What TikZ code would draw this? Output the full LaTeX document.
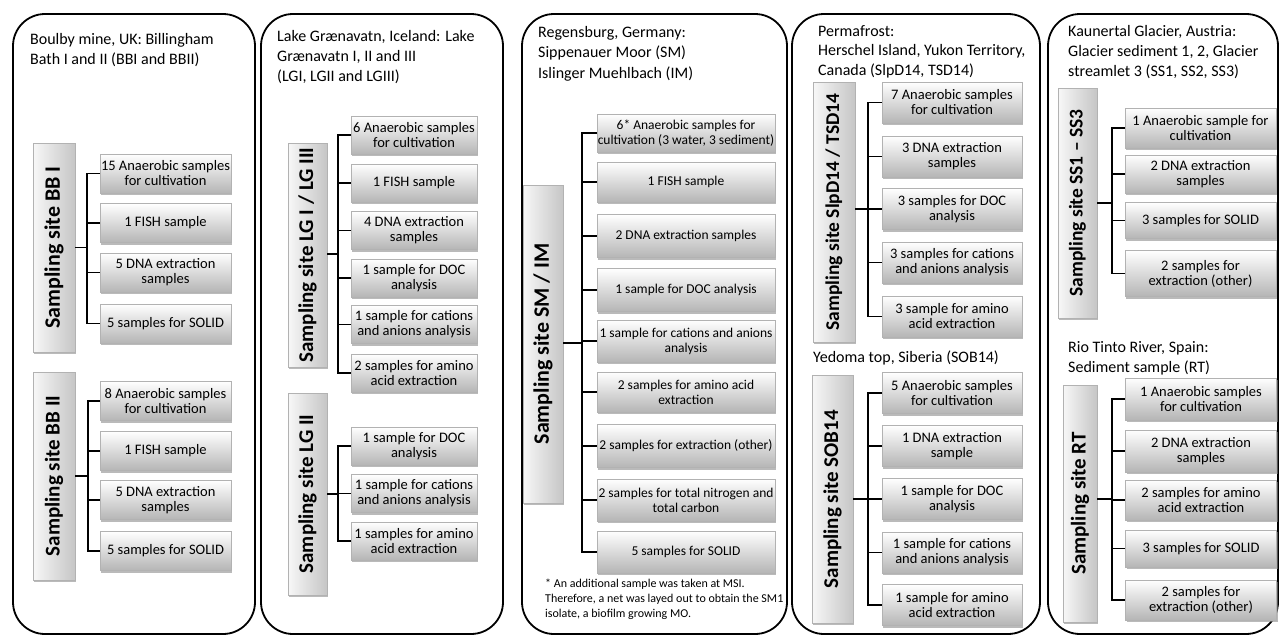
\documentclass[tikz,border=0pt]{standalone}
\usepackage{fontspec}
\setmainfont{Carlito}
\usetikzlibrary{shadows}
\tikzset{
  panel/.style={draw=black, line width=1.8pt, rounded corners=32pt},
  shad/.style={drop shadow={shadow xshift=1.2pt, shadow yshift=-2pt, fill=gray!90, opacity=0.6}},
  sbox/.style={rectangle, draw=gray!60, line width=0.4pt, top color=white, bottom color=gray!58, shad, align=center, inner sep=0pt, font=\fontsize{14.5}{15}\selectfont},
  sboxs/.style={sbox, font=\fontsize{13.5}{15}\selectfont},
  lbox/.style={rectangle, draw=gray!60, line width=0.4pt, left color=gray!6, right color=gray!45, shad, inner sep=0pt},
  ltext/.style={rotate=90, inner sep=0pt, font=\bfseries\fontsize{21}{24}\selectfont},
  ttl/.style={anchor=north west, align=left, inner sep=0pt, font=\fontsize{16}{20}\selectfont},
  note/.style={anchor=north west, align=left, inner sep=0pt, font=\fontsize{12}{15}\selectfont},
  conn/.style={line width=1.6pt, black},
  wa/.style={minimum width=131pt},
  wb/.style={minimum width=126pt},
  wc/.style={minimum width=178pt},
  wd/.style={minimum width=140pt},
  we/.style={minimum width=151pt},
}
\begin{document}
\begin{tikzpicture}[x=1pt,y=-1pt]
\useasboundingbox (0,0) rectangle (1280,637);
\fill[white] (0,0) rectangle (1280,637);

% panels
\draw[panel] (13,14) rectangle (255,634);
\draw[panel] (261,14) rectangle (503,634);
\draw[panel] (522,14) rectangle (787,634);
\draw[panel] (792,14) rectangle (1040,634);
\draw[panel] (1048,14) rectangle (1278,634);

% ---------- Panel 1 ----------
\node[ttl] (t1) at (30,33) {Boulby mine, UK: Billingham\\Bath I and II (BBI and BBII)};

\node[lbox, minimum width=42pt, minimum height=209pt] (la) at (54,247.5) {};
\node[ltext, font=\bfseries\fontsize{22}{24}\selectfont] (lat) at (la) {Sampling site BB I};
\node[sbox,wa,minimum height=39pt] (a1) at (165.5,173.5) {15 Anaerobic samples\\for cultivation};
\node[sbox,wa,minimum height=39pt] (a2) at (165.5,223) {1 FISH sample};
\node[sbox,wa,minimum height=39pt] (a3) at (165.5,272.5) {5 DNA extraction\\samples};
\node[sbox,wa,minimum height=39pt] (a4) at (165.5,323.5) {5 samples for SOLID};
\coordinate (ja) at (87,247.5);
\draw[conn] (la.east) -- (ja);
\foreach \n in {a1,a2,a3,a4} \draw[conn] (ja) |- (\n.west);

\node[lbox, minimum width=42pt, minimum height=208pt] (lb) at (54,476) {};
\node[ltext] (lbt) at (lb) {Sampling site BB II};
\node[sbox,wa,minimum height=39pt] (b1) at (165.5,401) {8 Anaerobic samples\\for cultivation};
\node[sbox,wa,minimum height=39pt] (b2) at (165.5,451) {1 FISH sample};
\node[sbox,wa,minimum height=39pt] (b3) at (165.5,500) {5 DNA extraction\\samples};
\node[sbox,wa,minimum height=39pt] (b4) at (165.5,551) {5 samples for SOLID};
\coordinate (jb) at (88,476);
\draw[conn] (lb.east) -- (jb);
\foreach \n in {b1,b2,b3,b4} \draw[conn] (jb) |- (\n.west);

% ---------- Panel 2 ----------
\node[ttl] (t2) at (277,30) {Lake Grænavatn, Iceland: Lake\\Grænavatn I, II and III\\(LGI, LGII and LGIII)};

\node[lbox, minimum width=39pt, minimum height=224pt] (lc) at (307.5,255) {};
\node[ltext] (lct) at (lc) {Sampling site LG I / LG III};
\node[sbox,wb,minimum height=38pt] (c1) at (414,135) {6 Anaerobic samples\\for cultivation};
\node[sbox,wb,minimum height=38pt] (c2) at (414,183) {1 FISH sample};
\node[sbox,wb,minimum height=38pt] (c3) at (414,230.5) {4 DNA extraction\\samples};
\node[sbox,wb,minimum height=38pt] (c4) at (414,278) {1 sample for DOC\\analysis};
\node[sbox,wb,minimum height=38pt] (c5) at (414,324.5) {1 sample for cations\\and anions analysis};
\node[sbox,wb,minimum height=38pt] (c6) at (414,373) {2 samples for amino\\acid extraction};
\coordinate (jc) at (338,254);
\draw[conn] (lc.east |- jc) -- (jc);
\foreach \n in {c1,c2,c3,c4,c5,c6} \draw[conn] (jc) |- (\n.west);

\node[lbox, minimum width=39pt, minimum height=202pt] (ld) at (307.5,494) {};
\node[ltext] (ldt) at (ld) {Sampling site LG II};
\node[sbox,wb,minimum height=38pt] (d1) at (414,446) {1 sample for DOC\\analysis};
\node[sbox,wb,minimum height=38pt] (d2) at (414,493.5) {1 sample for cations\\and anions analysis};
\node[sbox,wb,minimum height=38pt] (d3) at (414,541) {1 samples for amino\\acid extraction};
\coordinate (jd) at (338,494);
\draw[conn] (ld.east) -- (jd);
\foreach \n in {d1,d2,d3} \draw[conn] (jd) |- (\n.west);

% ---------- Panel 3 ----------
\node[ttl, font=\fontsize{16}{20.5}\selectfont] (t3) at (538,26) {Regensburg, Germany:\\Sippenauer Moor (SM)\\Islinger Muehlbach (IM)};

\node[lbox, minimum width=40pt, minimum height=318pt] (le) at (543,344) {};
\node[ltext, font=\bfseries\fontsize{22}{24}\selectfont] (let) at (le) {Sampling site SM / IM};
\node[sboxs,wc,minimum height=38pt] (e1) at (686,133) {6* Anaerobic samples for\\cultivation (3 water, 3 sediment)};
\node[sboxs,wc,minimum height=40pt] (e2) at (686,182) {1 FISH sample};
\node[sboxs,wc,minimum height=43pt] (e3) at (686,236) {2 DNA extraction samples};
\node[sboxs,wc,minimum height=43pt] (e4) at (686,290) {1 sample for DOC analysis};
\node[sboxs,wc,minimum height=42pt] (e5) at (686,341) {1 sample for cations and anions\\analysis};
\node[sboxs,wc,minimum height=40pt] (e6) at (686,392) {2 samples for amino acid\\extraction};
\node[sboxs,wc,minimum height=43pt] (e7) at (686,446) {2 samples for extraction (other)};
\node[sboxs,wc,minimum height=42pt] (e8) at (686,500) {2 samples for total nitrogen and\\total carbon};
\node[sboxs,wc,minimum height=42pt] (e9) at (686,552) {5 samples for SOLID};
\coordinate (je) at (582,343);
\draw[conn] (le.east |- je) -- (je);
\foreach \n in {e1,e2,e3,e4,e5,e6,e7,e8,e9} \draw[conn] (je) |- (\n.west);
\node[note] (fn) at (545,579) {* An additional sample was taken at MSI.\\Therefore, a net was layed out to obtain the SM1\\isolate, a biofilm growing MO.};

% ---------- Panel 4 ----------
\node[ttl, font=\fontsize{16}{19.5}\selectfont] (t4) at (818,25) {Permafrost:\\Herschel Island, Yukon Territory,\\Canada (SlpD14, TSD14)};

\node[lbox, minimum width=42pt, minimum height=260pt] (lf) at (834,212) {};
\node[ltext, font=\bfseries\fontsize{19.5}{24}\selectfont] (lft) at (lf) {Sampling site SlpD14 / TSD14};
\node[sbox,wd,minimum height=41pt] (f1) at (952,102.5) {7 Anaerobic samples\\for cultivation};
\node[sbox,wd,minimum height=41pt] (f2) at (952,156.5) {3 DNA extraction\\samples};
\node[sbox,wd,minimum height=41pt] (f3) at (952,209) {3 samples for DOC\\analysis};
\node[sbox,wd,minimum height=41pt] (f4) at (952,262.5) {3 samples for cations\\and anions analysis};
\node[sbox,wd,minimum height=41pt] (f5) at (952,316.5) {3 sample for amino\\acid extraction};
\coordinate (jf) at (868,209);
\draw[conn] (lf.east |- jf) -- (jf);
\foreach \n in {f1,f2,f3,f4,f5} \draw[conn] (jf) |- (\n.west);

\node[ttl] (t4b) at (813,351) {Yedoma top, Siberia (SOB14)};
\node[lbox, minimum width=41pt, minimum height=248pt] (lg) at (832.5,499) {};
\node[ltext] (lgt) at (lg) {Sampling site SOB14};
\node[sbox,wd,minimum height=41pt] (g1) at (952,393) {5 Anaerobic samples\\for cultivation};
\node[sbox,wd,minimum height=41pt] (g2) at (952,446) {1 DNA extraction\\sample};
\node[sbox,wd,minimum height=41pt] (g3) at (952,499) {1 sample for DOC\\analysis};
\node[sbox,wd,minimum height=41pt] (g4) at (952,552.5) {1 sample for cations\\and anions analysis};
\node[sbox,wd,minimum height=41pt] (g5) at (952,605) {1 sample for amino\\acid extraction};
\coordinate (jg) at (868,499);
\draw[conn] (lg.east) -- (jg);
\foreach \n in {g1,g2,g3,g4,g5} \draw[conn] (jg) |- (\n.west);

% ---------- Panel 5 ----------
\node[ttl] (t5) at (1068,25) {Kaunertal Glacier, Austria:\\Glacier sediment 1, 2, Glacier\\streamlet 3 (SS1, SS2, SS3)};

\node[lbox, minimum width=39pt, minimum height=230pt] (lh) at (1077.5,203) {};
\node[ltext, font=\bfseries\fontsize{19.5}{24}\selectfont] (lht) at (lh) {Sampling site SS1 – SS3};
\node[sbox,we,minimum height=40pt] (h1) at (1200.5,128) {1 Anaerobic sample for\\cultivation};
\node[sbox,we,minimum height=38pt] (h2) at (1200.5,174) {2 DNA extraction\\samples};
\node[sbox,we,minimum height=36pt] (h3) at (1200.5,220.5) {3 samples for SOLID};
\node[sbox,we,minimum height=46pt] (h4) at (1200.5,273.5) {2 samples for\\extraction (other)};
\coordinate (jh) at (1112,203);
\draw[conn] (lh.east) -- (jh);
\foreach \n in {h1,h2,h3,h4} \draw[conn] (jh) |- (\n.west);

\node[ttl] (t5b) at (1068,341) {Rio Tinto River, Spain:\\Sediment sample (RT)};
\node[lbox, minimum width=34pt, minimum height=237pt] (li) at (1080,503.5) {};
\node[ltext] (lit) at (li) {Sampling site RT};
\node[sbox,we,minimum height=42pt] (i1) at (1201,399) {1 Anaerobic samples\\for cultivation};
\node[sbox,we,minimum height=42pt] (i2) at (1201,451) {2 DNA extraction\\samples};
\node[sbox,we,minimum height=40pt] (i3) at (1201,500) {2 samples for amino\\acid extraction};
\node[sbox,we,minimum height=37pt] (i4) at (1201,548.5) {3 samples for SOLID};
\node[sbox,we,minimum height=40pt] (i5) at (1201,600) {2 samples for\\extraction (other)};
\coordinate (ji) at (1112,499);
\draw[conn] (li.east |- ji) -- (ji);
\foreach \n in {i1,i2,i3,i4,i5} \draw[conn] (ji) |- (\n.west);
\end{tikzpicture}
\end{document}
